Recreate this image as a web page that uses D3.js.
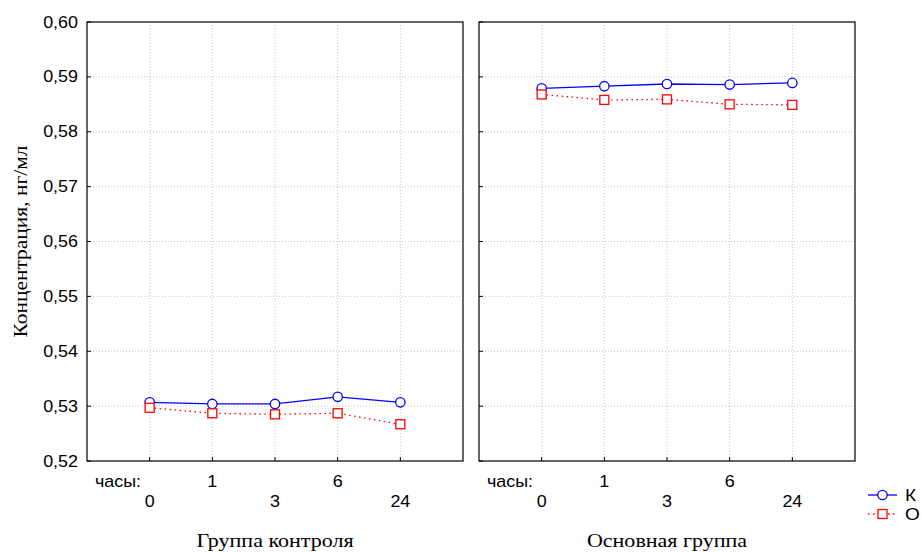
<!DOCTYPE html>
<html>
<head>
<meta charset="utf-8">
<script src="https://cdn.jsdelivr.net/npm/d3@7"></script>
<style>
  body { margin: 0; background: #fff; }
  svg { display: block; }
</style>
</head>
<body>
<div id="chart"></div>
<script>
// data
const hours = ["0", "1", "3", "6", "24"];
const groupNames = ["Группа контроля", "Основная группа"];
const seriesNames = ["К", "О"];
const controlK = [0.5307, 0.5304, 0.5304, 0.5317, 0.5307];
const controlO = [0.5297, 0.5287, 0.5285, 0.5287, 0.5267];
const mainK = [0.5879, 0.5883, 0.5887, 0.5886, 0.5889];
const mainO = [0.5868, 0.5858, 0.5859, 0.5850, 0.5849];
const yTicks = [0.52, 0.53, 0.54, 0.55, 0.56, 0.57, 0.58, 0.59, 0.60];

const groups = [
    { name: groupNames[0], K: controlK, O: controlO },
    { name: groupNames[1], K: mainK, O: mainO }
];

const width = 922, height = 552;
const plotTop = 22, plotBottom = 461;
const panelLefts = [87, 479];
const panelWidth = 376;

const svg = d3.select("#chart")
    .append("svg")
    .attr("width", width)
    .attr("height", height);

const y = d3.scaleLinear()
    .domain([0.52, 0.60])
    .range([plotBottom, plotTop]);

const fmt = d => d3.format(".2f")(d).replace(".", ",");

const sans = "'Liberation Sans', Arial, sans-serif";
const serif = "'Liberation Serif', 'Times New Roman', serif";

// text in the original is a bit wider than the fonts we have
const sansStretch = 1.12;
const serifStretch = 1.16;

function stretched(sel, x, yy, sx, rot) {
    return sel.attr("transform", `translate(${x},${yy})` + (rot ? ` rotate(${rot})` : "") + ` scale(${sx},1)`);
}

// y axis labels (left panel only)
svg.append("g")
    .selectAll("text")
    .data(yTicks)
    .enter()
    .append("text")
    .attr("transform", d => `translate(78,${y(d) + 5.5}) scale(${sansStretch},1)`)
    .attr("text-anchor", "end")
    .attr("font-family", sans)
    .attr("font-size", "16px")
    .attr("fill", "#000")
    .text(fmt);

// y title
stretched(svg.append("text"), 27, (plotTop + plotBottom) / 2, 1.13, -90)
    .attr("text-anchor", "middle")
    .attr("font-family", serif)
    .attr("font-size", "19px")
    .text("Концентрация, нг/мл");

groups.forEach((g, i) => {
    const left = panelLefts[i];
    const right = left + panelWidth;

    const x = d3.scalePoint()
        .domain(hours)
        .range([left, right])
        .padding(1);

    const panel = svg.append("g");

    // grid
    panel.selectAll(".hgrid")
        .data(yTicks.slice(1, -1))
        .enter()
        .append("line")
        .attr("x1", left).attr("x2", right)
        .attr("y1", d => y(d)).attr("y2", d => y(d))
        .attr("stroke", "#c8c8c8")
        .attr("stroke-width", 1)
        .attr("stroke-dasharray", "1,2");

    panel.selectAll(".vgrid")
        .data(hours)
        .enter()
        .append("line")
        .attr("x1", d => x(d)).attr("x2", d => x(d))
        .attr("y1", plotTop).attr("y2", plotBottom)
        .attr("stroke", "#c8c8c8")
        .attr("stroke-width", 1)
        .attr("stroke-dasharray", "1,2");

    // frame
    panel.append("rect")
        .attr("x", left).attr("y", plotTop)
        .attr("width", panelWidth).attr("height", plotBottom - plotTop)
        .attr("fill", "none")
        .attr("stroke", "#000")
        .attr("stroke-width", 1.2);

    // ticks, pointing inward
    panel.selectAll(".ytick")
        .data(yTicks)
        .enter()
        .append("line")
        .attr("x1", left).attr("x2", left + 4)
        .attr("y1", d => y(d)).attr("y2", d => y(d))
        .attr("stroke", "#000");

    panel.selectAll(".xtick")
        .data(hours)
        .enter()
        .append("line")
        .attr("x1", d => x(d)).attr("x2", d => x(d))
        .attr("y1", plotBottom).attr("y2", plotBottom - 4)
        .attr("stroke", "#000");

    // x labels, staggered in two rows
    stretched(panel.append("text"), left + 8, 487, sansStretch)
        .attr("font-family", sans)
        .attr("font-size", "16px")
        .text("часы:");

    panel.selectAll(".xlabel")
        .data(hours)
        .enter()
        .append("text")
        .attr("transform", (d, j) => `translate(${x(d)},${j % 2 == 0 ? 507 : 487}) scale(${sansStretch},1)`)
        .attr("text-anchor", "middle")
        .attr("font-family", sans)
        .attr("font-size", "16px")
        .text(d => d);

    // group title
    stretched(panel.append("text"), (left + right) / 2, 547, serifStretch)
        .attr("text-anchor", "middle")
        .attr("font-family", serif)
        .attr("font-size", "19px")
        .text(g.name);

    const line = d3.line()
        .x((d, j) => x(hours[j]))
        .y(d => y(d));

    // K series
    panel.append("path")
        .datum(g.K)
        .attr("d", line)
        .attr("fill", "none")
        .attr("stroke", "#0000ff")
        .attr("stroke-width", 1.3);

    panel.selectAll(".kdot")
        .data(g.K)
        .enter()
        .append("circle")
        .attr("cx", (d, j) => x(hours[j]))
        .attr("cy", d => y(d))
        .attr("r", 4.7)
        .attr("fill", "#fff")
        .attr("stroke", "#0000ff")
        .attr("stroke-width", 1.3);

    // O series
    panel.append("path")
        .datum(g.O)
        .attr("d", line)
        .attr("fill", "none")
        .attr("stroke", "#ff0000")
        .attr("stroke-width", 1.3)
        .attr("stroke-dasharray", "1.5,3.5");

    panel.selectAll(".osq")
        .data(g.O)
        .enter()
        .append("rect")
        .attr("x", (d, j) => x(hours[j]) - 4.5)
        .attr("y", d => y(d) - 4.5)
        .attr("width", 9)
        .attr("height", 9)
        .attr("fill", "#fff")
        .attr("stroke", "#ff0000")
        .attr("stroke-width", 1.3);
});

// legend
const legend = svg.append("g");
const legendY = [495, 514];

legend.append("line")
    .attr("x1", 868).attr("x2", 897)
    .attr("y1", legendY[0]).attr("y2", legendY[0])
    .attr("stroke", "#0000ff").attr("stroke-width", 1.3);
legend.append("circle")
    .attr("cx", 882.5).attr("cy", legendY[0]).attr("r", 4.7)
    .attr("fill", "#fff").attr("stroke", "#0000ff").attr("stroke-width", 1.3);

legend.append("line")
    .attr("x1", 868).attr("x2", 897)
    .attr("y1", legendY[1]).attr("y2", legendY[1])
    .attr("stroke", "#ff0000").attr("stroke-width", 1.3)
    .attr("stroke-dasharray", "1.5,3.5");
legend.append("rect")
    .attr("x", 878).attr("y", legendY[1] - 4.5)
    .attr("width", 9).attr("height", 9)
    .attr("fill", "#fff").attr("stroke", "#ff0000").attr("stroke-width", 1.3);

legend.selectAll(".ltext")
    .data(seriesNames)
    .enter()
    .append("text")
    .attr("transform", (d, i) => `translate(905,${legendY[i] + 6}) scale(${sansStretch},1)`)
    .attr("font-family", sans)
    .attr("font-size", "17px")
    .text(d => d);
</script>
</body>
</html>
